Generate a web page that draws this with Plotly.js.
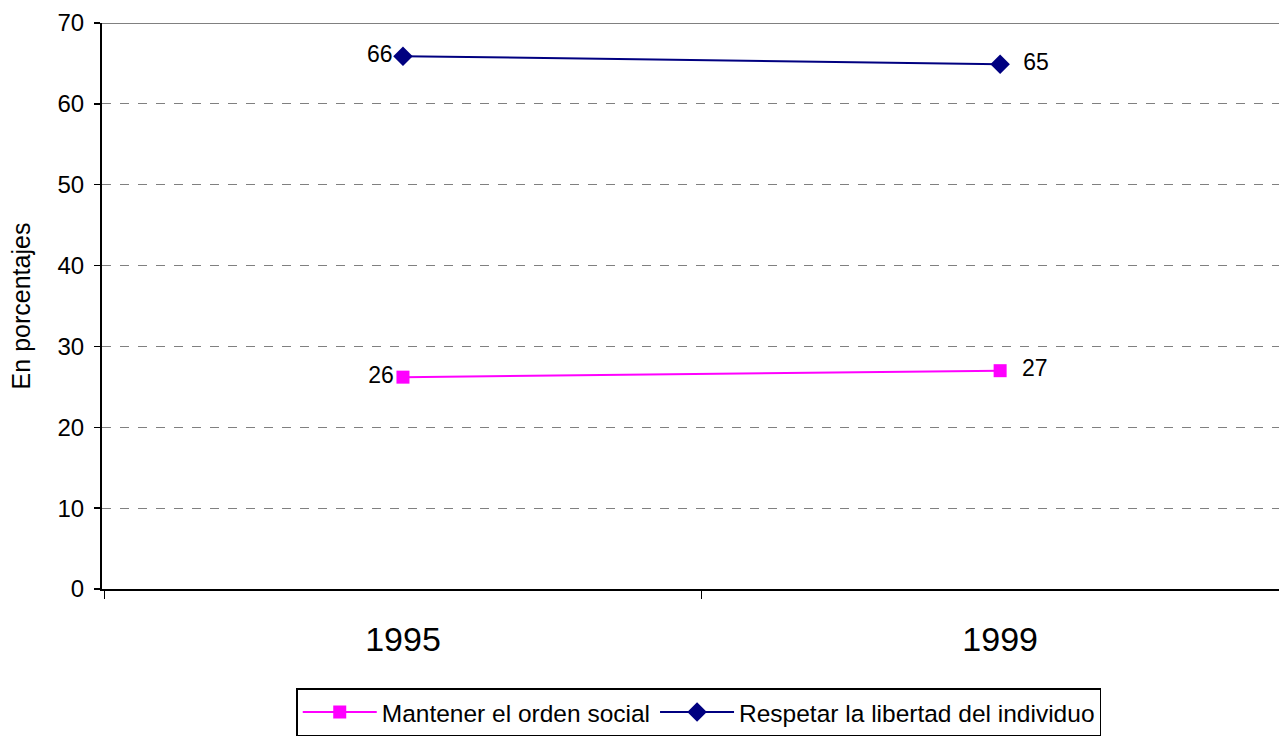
<!DOCTYPE html>
<html><head><meta charset="utf-8">
<script src="https://cdn.plot.ly/plotly-3.0.1.min.js"></script>
<style>html,body{margin:0;padding:0;background:#fff;}#chart{width:1281px;height:737px;}</style>
</head><body><div id="chart"></div>
<script>
const categories = ['1995', '1999'];
const seriesNames = ['Mantener el orden social', 'Respetar la libertad del individuo'];
const ordenSocial = [26.2, 27.0];
const libertad = [65.9, 64.9];
const yTicks = [0, 10, 20, 30, 40, 50, 60, 70];

const FONT = 'Liberation Sans, Arial, sans-serif';
const NB = '\u00a0\u00a0';

const traces = [
  {
    x: categories, y: ordenSocial, name: seriesNames[0], type: 'scatter', mode: 'lines+markers+text',
    line: {color: '#FF00FF', width: 2},
    marker: {symbol: 'square', size: 13, color: '#FF00FF'},
    texttemplate: ['%{y:.0f}', NB + '%{y:.0f}'], textposition: ['middle left', 'middle right'],
    textfont: {family: FONT, size: 23, color: '#000'},
    cliponaxis: false
  },
  {
    x: categories, y: libertad, name: seriesNames[1], type: 'scatter', mode: 'lines+markers+text',
    line: {color: '#000080', width: 2},
    marker: {symbol: 'diamond', size: 15, color: '#000080'},
    texttemplate: ['%{y:.0f}', NB + '%{y:.0f}'], textposition: ['middle left', 'middle right'],
    textfont: {family: FONT, size: 23, color: '#000'},
    cliponaxis: false
  }
];

const layout = {
  width: 1281, height: 737,
  margin: {l: 102, r: 2, t: 23, b: 147},
  paper_bgcolor: '#fff', plot_bgcolor: '#fff',
  font: {family: FONT, color: '#000'},
  showlegend: true,
  legend: {
    orientation: 'h', x: 0.507, xanchor: 'center', y: -0.173, yanchor: 'top',
    bordercolor: '#000', borderwidth: 1.5, font: {family: FONT, size: 24.5},
    traceorder: 'normal', itemwidth: 74
  },
  xaxis: {
    type: 'category', range: [-0.504, 1.467],
    tickson: 'boundaries', ticks: 'outside', ticklen: 8, tickwidth: 1.5, tickcolor: '#000',
    showline: true, linecolor: '#000', linewidth: 2,
    showgrid: false, zeroline: false,
    tickfont: {family: FONT, size: 34},
    ticklabelstandoff: 19,
    automargin: false,
    fixedrange: true
  },
  yaxis: {
    range: [0, 70], tickvals: yTicks, ticktext: yTicks.map(String),
    ticks: 'outside', ticklen: 6, tickwidth: 1.5, tickcolor: '#000',
    showline: true, linecolor: '#000', linewidth: 2,
    showgrid: true, gridcolor: '#808080', griddash: 'dash', gridwidth: 1,
    zeroline: false,
    tickfont: {family: FONT, size: 24},
    ticklabelstandoff: 5,
    title: {text: 'En porcentajes', font: {family: FONT, size: 25}, standoff: 20},
    automargin: true,
    fixedrange: true
  },
  shapes: [
    {type: 'line', xref: 'paper', yref: 'y', x0: 0, x1: 1, y0: 70, y1: 70,
     line: {color: '#808080', width: 2}}
  ]
};

Plotly.newPlot('chart', traces, layout, {displayModeBar: false, staticPlot: true});
</script></body></html>
